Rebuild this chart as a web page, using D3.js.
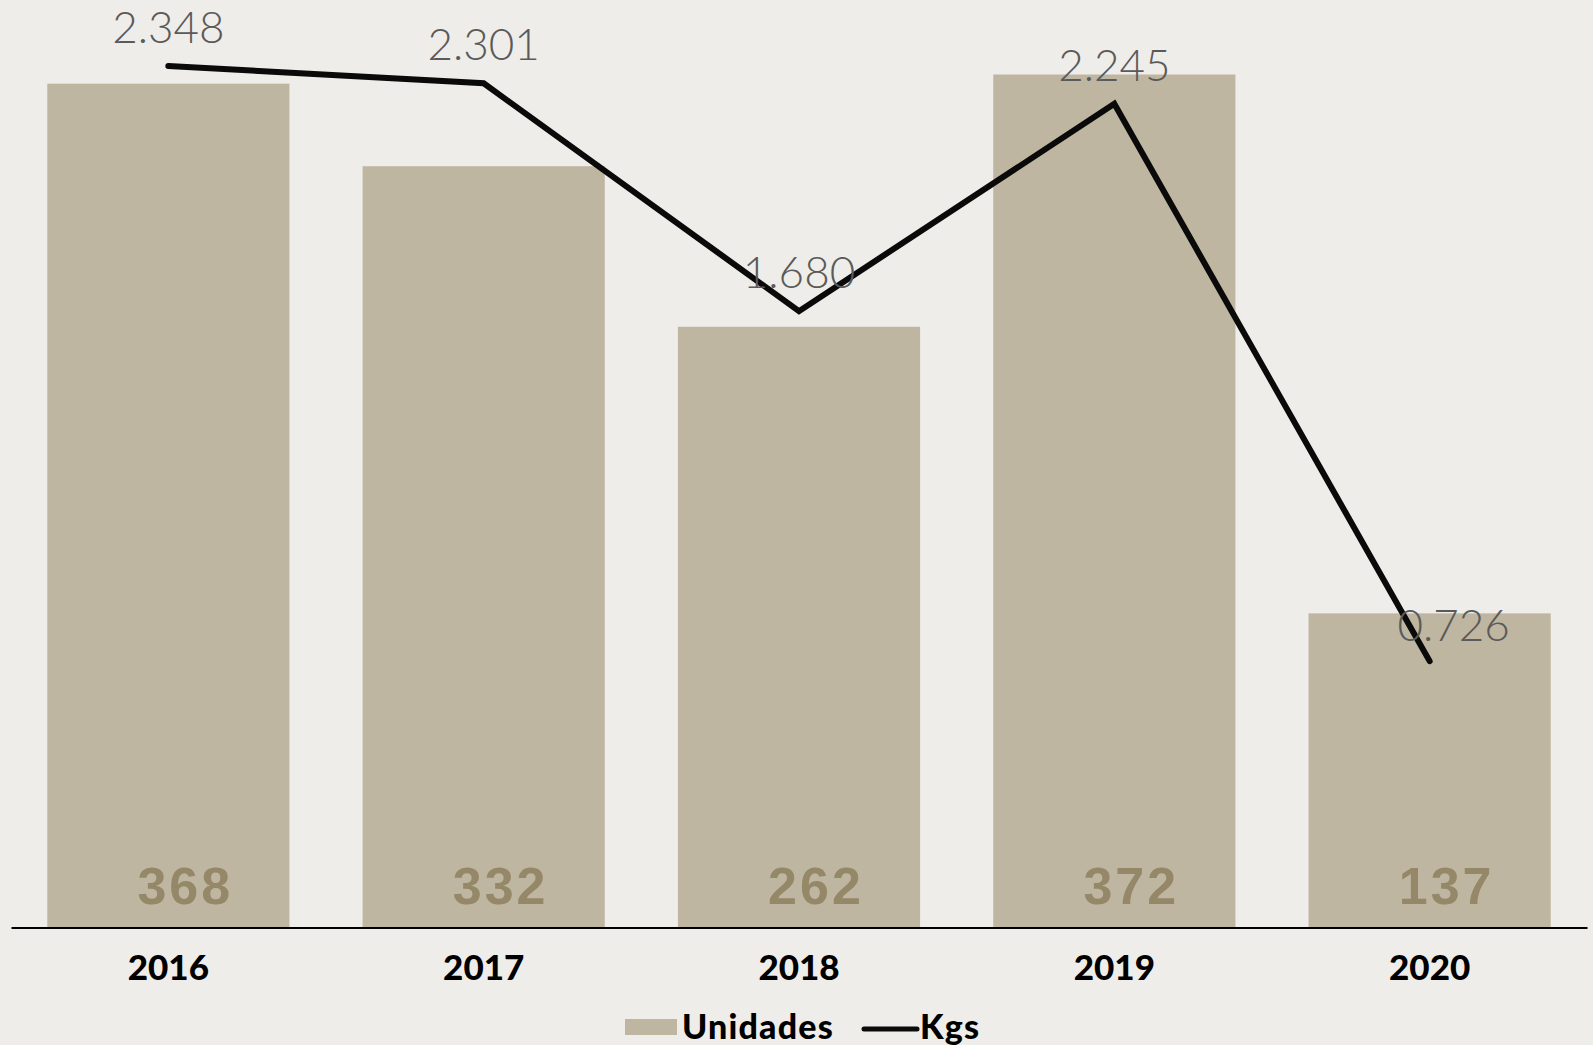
<!DOCTYPE html>
<html>
<head>
<meta charset="utf-8">
<script src="https://cdn.jsdelivr.net/npm/d3@7"></script>
<style>
  html, body { margin: 0; padding: 0; background: #efede9; }
  svg { display: block; }
  .kg-label { font-family: "Lato", "Inter", sans-serif; font-weight: 300; fill: #5a5a5a; }
  .val-label { font-family: "Liberation Sans", Arial, sans-serif; font-weight: 700; fill: #958868; }
  .x-axis text { font-family: "Lato", sans-serif; font-weight: 900; fill: #000; }
  .legend text { font-family: "Lato", sans-serif; font-weight: 900; fill: #000; }
</style>
</head>
<body>
<div id="chart"></div>
<script>
var width = 1593,
    height = 1045;

// data
var years = ["2016", "2017", "2018", "2019", "2020"];
var unidades = [368, 332, 262, 372, 137];
var kgs = [2.348, 2.301, 1.680, 2.245, 0.726];

var rows = years.map(function(y, i) {
  return { year: y, unidades: unidades[i], kgs: kgs[i] };
});

var formatKg = d3.format(".3f");

var svg = d3.select("#chart").append("svg")
    .attr("width", width)
    .attr("height", height);

svg.append("rect")
    .attr("width", width)
    .attr("height", height)
    .attr("fill", "#efede9");

var baseY = 927.5,
    topY = 10.3;

var x = d3.scaleBand()
    .domain(years)
    .range([11, 1587])
    .paddingInner(0.232)
    .paddingOuter(0.115);

var y = d3.scaleLinear()
    .domain([0, 400])
    .range([baseY, topY]);

var y2 = d3.scaleLinear()
    .domain([0, 2.5])
    .range([baseY, topY]);

function cx(d) { return x(d.year) + x.bandwidth() / 2; }

//--------BARS--------//
svg.selectAll(".bar")
    .data(rows)
    .enter()
    .append("rect")
    .attr("class", "bar")
    .attr("x", function(d) { return x(d.year); })
    .attr("y", function(d) { return y(d.unidades); })
    .attr("width", x.bandwidth())
    .attr("height", function(d) { return y(0) - y(d.unidades); })
    .attr("fill", "#bfb6a1");

svg.selectAll(".val-label")
    .data(rows)
    .enter()
    .append("text")
    .attr("class", "val-label")
    .attr("x", function(d) { return cx(d) + 17; })
    .attr("y", baseY - 23.3)
    .attr("text-anchor", "middle")
    .style("font-size", "52px")
    .style("letter-spacing", "3px")
    .text(function(d) { return d.unidades; });

//--------AXIS--------//
var xAxis = svg.append("g")
    .attr("class", "x-axis")
    .attr("transform", "translate(0," + baseY + ")")
    .call(d3.axisBottom(x).tickSizeInner(0).tickSizeOuter(0).tickPadding(28));

xAxis.select(".domain")
    .attr("stroke", "#000")
    .attr("stroke-width", 2);

xAxis.selectAll("text")
    .style("font-size", "35px");

//--------LINE--------//
var line = d3.line()
    .x(cx)
    .y(function(d) { return y2(d.kgs); });

svg.append("path")
    .datum(rows)
    .attr("d", line)
    .attr("fill", "none")
    .attr("stroke", "#0a0a0a")
    .attr("stroke-width", 6)
    .attr("stroke-linejoin", "miter")
    .attr("stroke-linecap", "round");

// last label sits a bit right of its point in the original
svg.selectAll(".kg-label")
    .data(rows)
    .enter()
    .append("text")
    .attr("class", "kg-label")
    .attr("x", function(d, i) { return cx(d) + (i === rows.length - 1 ? 24 : 0); })
    .attr("y", function(d, i) { return y2(d.kgs) - (i === rows.length - 1 ? 20 : 23); })
    .attr("text-anchor", "middle")
    .style("font-size", "44px")
    .text(function(d) { return formatKg(d.kgs); });

//--------LEGEND--------//
var legend = svg.append("g").attr("class", "legend");

legend.append("rect")
    .attr("x", 625)
    .attr("y", 1019)
    .attr("width", 52)
    .attr("height", 16)
    .attr("fill", "#bfb6a1");

legend.append("text")
    .attr("x", 682)
    .attr("y", 1039)
    .style("font-size", "34px")
    .style("letter-spacing", "1.2px")
    .text("Unidades");

legend.append("line")
    .attr("x1", 864)
    .attr("x2", 917)
    .attr("y1", 1029)
    .attr("y2", 1029)
    .attr("stroke", "#0a0a0a")
    .attr("stroke-width", 5)
    .attr("stroke-linecap", "round");

legend.append("text")
    .attr("x", 920)
    .attr("y", 1039)
    .style("font-size", "34px")
    .style("letter-spacing", "1.2px")
    .text("Kgs");
</script>
</body>
</html>
